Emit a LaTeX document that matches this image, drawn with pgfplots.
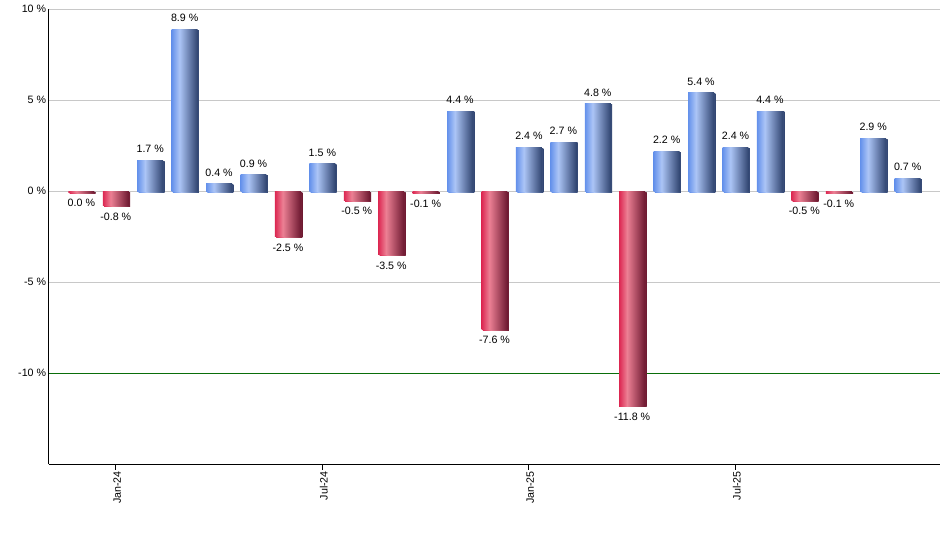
\documentclass[border=0pt]{standalone}
\usepackage{pgfplots}
\pgfplotsset{compat=1.18}
\usepackage{fontspec}
\setmainfont{Liberation Sans}

\definecolor{bluea}{RGB}{100,145,235}
\definecolor{blueb}{RGB}{172,197,246}
\definecolor{bluec}{RGB}{48,68,112}
\definecolor{reda}{RGB}{220,40,82}
\definecolor{redb}{RGB}{236,128,148}
\definecolor{redc}{RGB}{108,24,48}
\definecolor{gridgrey}{RGB}{200,200,200}
\definecolor{tengreen}{RGB}{10,110,10}

% 25..75bp is what gets fitted to each bar
\pgfdeclarehorizontalshading{barblue}{100bp}{color(0bp)=(bluea); color(25bp)=(bluea); color(40bp)=(blueb); color(75bp)=(bluec); color(100bp)=(bluec)}
\pgfdeclarehorizontalshading{barred}{100bp}{color(0bp)=(reda); color(25bp)=(reda); color(40bp)=(redb); color(75bp)=(redc); color(100bp)=(redc)}

\begin{document}
\fontsize{8}{9.6}\selectfont
\begin{tikzpicture}
% 1px = 0.75pt, picture is 940 x 550 px
\useasboundingbox (-36.75pt,-64.3pt) rectangle (668.25pt,348.2pt);
\begin{axis}[
    at={(0pt,0pt)}, anchor=south west,
    scale only axis,
    width=668.25pt, height=341.25pt,
    xmin=0.06, xmax=25.94,
    ymin=-15, ymax=10,
    ybar, bar width=0.755, bar shift=0pt,
    axis x line*=bottom, axis y line*=left,
    axis line style={-, line width=0.75pt, black},
    xtick={2,8,14,20},
    xticklabels={Jan-24,Jul-24,Jan-25,Jul-25},
    xticklabel style={rotate=90, anchor=east, inner sep=1pt, yshift=-1pt},
    tick align=outside,
    major tick length=4pt,
    xtick style={black, line width=0.75pt},
    ytick={-5,0,5,10},
    yticklabels={-5 \%,0 \%,5 \%,10 \%},
    extra y ticks={-10},
    extra y tick labels={-10 \%},
    extra y tick style={major tick length=0pt,
        yticklabel style={xshift=-4pt},
        major grid style={draw=tengreen, line width=0.75pt}},
    ytick style={draw=none},
    yticklabel style={inner sep=1pt, xshift=3pt},
    ymajorgrids,
    grid style={gridgrey, line width=0.75pt},
    point meta=explicit symbolic,
    nodes near coords,
    every node near coord/.append style={font=\fontsize{8}{9.6}\selectfont, inner sep=1pt},
    pos/.style={draw=none, shading=barblue,
        preaction={fill=black!40, transform canvas={xshift=1pt, yshift=-0.6pt}},
        every node near coord/.append style={anchor=south, yshift=4.5pt}},
    neg/.style={draw=none, shading=barred,
        preaction={fill=black!40, transform canvas={xshift=1pt, yshift=-0.6pt}},
        every node near coord/.append style={anchor=north, yshift=-4pt}},
    clip=false,
    ]
\addplot[neg] coordinates {(1,-0.06) [0.0 \%]};
\addplot[neg] coordinates {(2,-0.8) [-0.8 \%]};
\addplot[pos] coordinates {(3,1.7) [1.7 \%]};
\addplot[pos] coordinates {(4,8.9) [8.9 \%]};
\addplot[pos] coordinates {(5,0.4) [0.4 \%]};
\addplot[pos] coordinates {(6,0.9) [0.9 \%]};
\addplot[neg] coordinates {(7,-2.5) [-2.5 \%]};
\addplot[pos] coordinates {(8,1.5) [1.5 \%]};
\addplot[neg] coordinates {(9,-0.5) [-0.5 \%]};
\addplot[neg] coordinates {(10,-3.5) [-3.5 \%]};
\addplot[neg] coordinates {(11,-0.1) [-0.1 \%]};
\addplot[pos] coordinates {(12,4.4) [4.4 \%]};
\addplot[neg] coordinates {(13,-7.6) [-7.6 \%]};
\addplot[pos] coordinates {(14,2.4) [2.4 \%]};
\addplot[pos] coordinates {(15,2.7) [2.7 \%]};
\addplot[pos] coordinates {(16,4.8) [4.8 \%]};
\addplot[neg] coordinates {(17,-11.8) [-11.8 \%]};
\addplot[pos] coordinates {(18,2.2) [2.2 \%]};
\addplot[pos] coordinates {(19,5.4) [5.4 \%]};
\addplot[pos] coordinates {(20,2.4) [2.4 \%]};
\addplot[pos] coordinates {(21,4.4) [4.4 \%]};
\addplot[neg] coordinates {(22,-0.5) [-0.5 \%]};
\addplot[neg] coordinates {(23,-0.1) [-0.1 \%]};
\addplot[pos] coordinates {(24,2.9) [2.9 \%]};
\addplot[pos] coordinates {(25,0.7) [0.7 \%]};
\end{axis}
\end{tikzpicture}
\end{document}
